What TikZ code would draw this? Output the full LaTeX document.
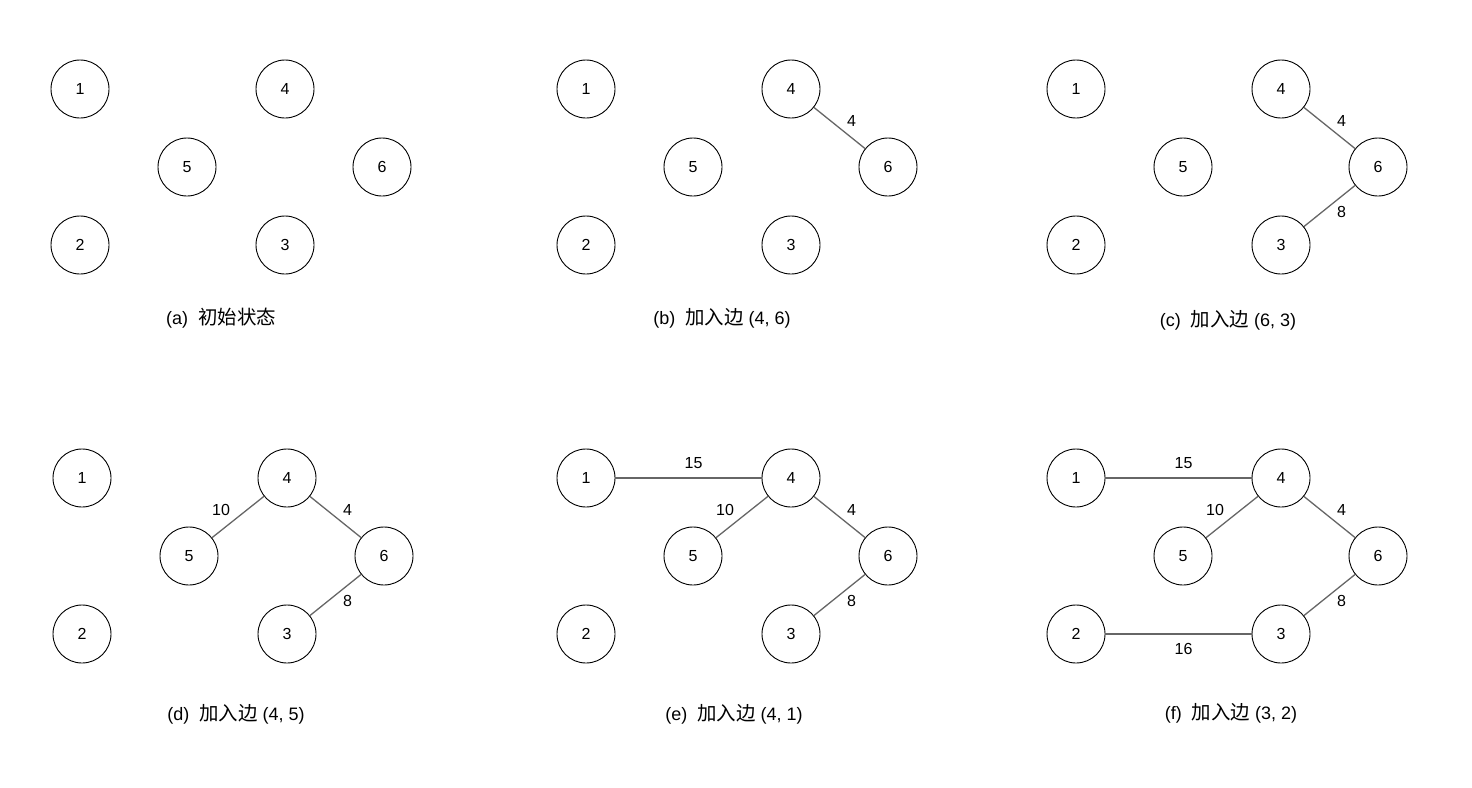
\documentclass[tikz,border=0pt]{standalone}
\usepackage{fontspec}
\setmainfont{Liberation Sans}
\newfontfamily\cjk[Scale=1.08]{Noto Sans CJK SC}
\usepackage{tikz}

\definecolor{edgegray}{HTML}{666666}

\begin{document}
\begin{tikzpicture}[x=1pt,y=-1pt,
	vtx/.style={circle,draw,line width=0.9pt,minimum size=58pt,inner sep=0pt,font=\fontsize{16}{19}\selectfont},
	edge/.style={draw=edgegray,line width=1.3pt},
	wt/.style={midway,inner sep=0pt,font=\fontsize{16}{19}\selectfont},
	caption/.style={inner sep=0pt,font=\fontsize{18}{21}\selectfont}]
\useasboundingbox (0,0) rectangle (1472,787);
\foreach \p/\x/\y in {a/80/89,b/586/89,c/1076/89,d/82/478,e/586/478,f/1076/478}{
	\node[vtx] (\p1) at (\x,\y) {1};
	\node[vtx] (\p4) at (\x+205,\y) {4};
	\node[vtx] (\p5) at (\x+107,\y+78) {5};
	\node[vtx] (\p6) at (\x+302,\y+78) {6};
	\node[vtx] (\p2) at (\x,\y+156) {2};
	\node[vtx] (\p3) at (\x+205,\y+156) {3};
}
% captions
\node[caption] (capa) at (221,318) {(a)\hspace{10pt}{\cjk 初始状态}};
\node[caption] (capb) at (722,318) {(b)\hspace{10pt}{\cjk 加入边} (4, 6)};
\node[caption] (capc) at (1228,320) {(c)\hspace{10pt}{\cjk 加入边} (6, 3)};
\node[caption] (capd) at (236,714) {(d)\hspace{10pt}{\cjk 加入边} (4, 5)};
\node[caption] (cape) at (734,714) {(e)\hspace{10pt}{\cjk 加入边} (4, 1)};
\node[caption] (capf) at (1231,713) {(f)\hspace{10pt}{\cjk 加入边} (3, 2)};
% (b)
\draw[edge] (b4) -- node[wt,xshift=12pt,yshift=7pt] {4} (b6);
% (c)
\draw[edge] (c4) -- node[wt,xshift=12pt,yshift=7pt] {4} (c6);
\draw[edge] (c6) -- node[wt,xshift=12pt,yshift=-6pt] {8} (c3);
% (d)
\draw[edge] (d4) -- node[wt,xshift=-17pt,yshift=7pt] {10} (d5);
\draw[edge] (d4) -- node[wt,xshift=12pt,yshift=7pt] {4} (d6);
\draw[edge] (d6) -- node[wt,xshift=12pt,yshift=-6pt] {8} (d3);
% (e)
\draw[edge] (e1) -- node[wt,xshift=5pt,yshift=15pt] {15} (e4);
\draw[edge] (e4) -- node[wt,xshift=-17pt,yshift=7pt] {10} (e5);
\draw[edge] (e4) -- node[wt,xshift=12pt,yshift=7pt] {4} (e6);
\draw[edge] (e6) -- node[wt,xshift=12pt,yshift=-6pt] {8} (e3);
% (f)
\draw[edge] (f1) -- node[wt,xshift=5pt,yshift=15pt] {15} (f4);
\draw[edge] (f4) -- node[wt,xshift=-17pt,yshift=7pt] {10} (f5);
\draw[edge] (f4) -- node[wt,xshift=12pt,yshift=7pt] {4} (f6);
\draw[edge] (f6) -- node[wt,xshift=12pt,yshift=-6pt] {8} (f3);
\draw[edge] (f2) -- node[wt,xshift=5pt,yshift=-15pt] {16} (f3);
\end{tikzpicture}
\end{document}
